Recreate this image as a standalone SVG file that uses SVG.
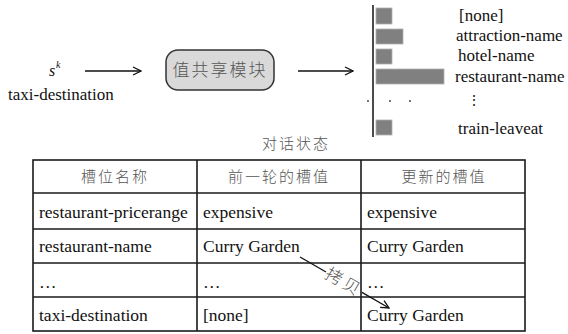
<svg xmlns="http://www.w3.org/2000/svg" width="568" height="334" viewBox="0 0 568 334">
<style>
.en{font-family:"Liberation Serif","Times New Roman",serif;fill:#111}
.zh{font-family:"Noto Sans CJK SC","Noto Sans CJK JP",sans-serif;fill:#555;font-weight:300}
.ln{stroke:#111;stroke-width:1.3;fill:none}
.bar{fill:#808080;stroke:#b0b0b0;stroke-width:0.8}
.grid{stroke:#1a1a1a;stroke-width:1.6;fill:none}
</style>
<defs>
<marker id="ah" viewBox="0 0 10 10" refX="9" refY="5" markerWidth="10" markerHeight="10" markerUnits="userSpaceOnUse" orient="auto">
<path d="M1,1 L9,5 L1,9" fill="none" stroke="#111" stroke-width="1.3"/>
</marker>
</defs>
<g id="input">
<text class="en" x="49" y="76" font-size="16" font-style="italic">s</text>
<text class="en" x="56" y="68" font-size="10" font-style="italic">k</text>
<text class="en" x="8" y="100" font-size="17">taxi-destination</text>
</g>
<g id="module">
<rect x="166" y="50" width="108" height="40" rx="12" ry="12" fill="#d9d9d9" stroke="#333" stroke-width="1.5"/>
<text class="zh" x="220" y="76" font-size="17" text-anchor="middle" letter-spacing="2">值共享模块</text>
</g>
<g id="distribution">
<line x1="373" y1="5" x2="373" y2="137" stroke="#111" stroke-width="1.5"/>
<rect class="bar" x="376" y="8" width="16" height="16"/>
<rect class="bar" x="376" y="29" width="27" height="15"/>
<rect class="bar" x="376" y="49" width="16" height="15"/>
<rect class="bar" x="376" y="69" width="68" height="15"/>
<rect class="bar" x="376" y="120" width="16" height="15"/>
<circle cx="368" cy="101" r="0.9" fill="#333"/>
<circle cx="390" cy="101" r="0.9" fill="#333"/>
<circle cx="410" cy="101" r="0.9" fill="#333"/>
<text class="en" x="459" y="21" font-size="17">[none]</text>
<text class="en" x="456" y="41" font-size="17">attraction-name</text>
<text class="en" x="458" y="61" font-size="17">hotel-name</text>
<text class="en" x="455" y="82" font-size="17">restaurant-name</text>
<text class="en" x="467" y="105" font-size="14">⋮</text>
<text class="en" x="458" y="134" font-size="17">train-leaveat</text>
</g>
<g id="caption">
<text class="zh" x="296" y="149" font-size="15" text-anchor="middle" letter-spacing="2">对话状态</text>
</g>
<g id="table">
<rect class="grid" x="33" y="160" width="492" height="171"/>
<line class="grid" x1="33" y1="193" x2="525" y2="193"/>
<line class="grid" x1="33" y1="229" x2="525" y2="229"/>
<line class="grid" x1="33" y1="263" x2="525" y2="263"/>
<line class="grid" x1="33" y1="297" x2="525" y2="297"/>
<line class="grid" x1="197" y1="160" x2="197" y2="331"/>
<line class="grid" x1="361" y1="160" x2="361" y2="331"/>
<text class="zh" x="115" y="182" font-size="15" text-anchor="middle" letter-spacing="2">槽位名称</text>
<text class="zh" x="279" y="182" font-size="15" text-anchor="middle" letter-spacing="2">前一轮的槽值</text>
<text class="zh" x="444" y="182" font-size="15" text-anchor="middle" letter-spacing="2">更新的槽值</text>
<text class="en" x="39" y="218" font-size="17.5">restaurant-pricerange</text>
<text class="en" x="203" y="218" font-size="17.5">expensive</text>
<text class="en" x="367" y="218" font-size="17.5">expensive</text>
<text class="en" x="39" y="252" font-size="17.5">restaurant-name</text>
<text class="en" x="203" y="252" font-size="17.5">Curry Garden</text>
<text class="en" x="367" y="252" font-size="17.5">Curry Garden</text>
<text class="en" x="39" y="288" font-size="17.5">…</text>
<text class="en" x="203" y="288" font-size="17.5">…</text>
<text class="en" x="367" y="288" font-size="17.5">…</text>
<text class="en" x="39" y="321" font-size="17.5">taxi-destination</text>
<text class="en" x="203" y="321" font-size="17.5">[none]</text>
<text class="en" x="367" y="321" font-size="17.5">Curry Garden</text>
</g>
<g id="connectors">
<line class="ln" x1="85" y1="71" x2="141" y2="71" marker-end="url(#ah)"/>
<line class="ln" x1="298" y1="71" x2="353" y2="71" marker-end="url(#ah)"/>
<line class="ln" x1="300" y1="257" x2="326" y2="272"/>
<line class="ln" x1="362" y1="292.4" x2="389" y2="308" marker-end="url(#ah)"/>
<text class="zh" x="0" y="6" font-size="17" text-anchor="middle" letter-spacing="3" fill="#333" transform="translate(344,282) rotate(30)">拷贝</text>
</g>
</svg>
